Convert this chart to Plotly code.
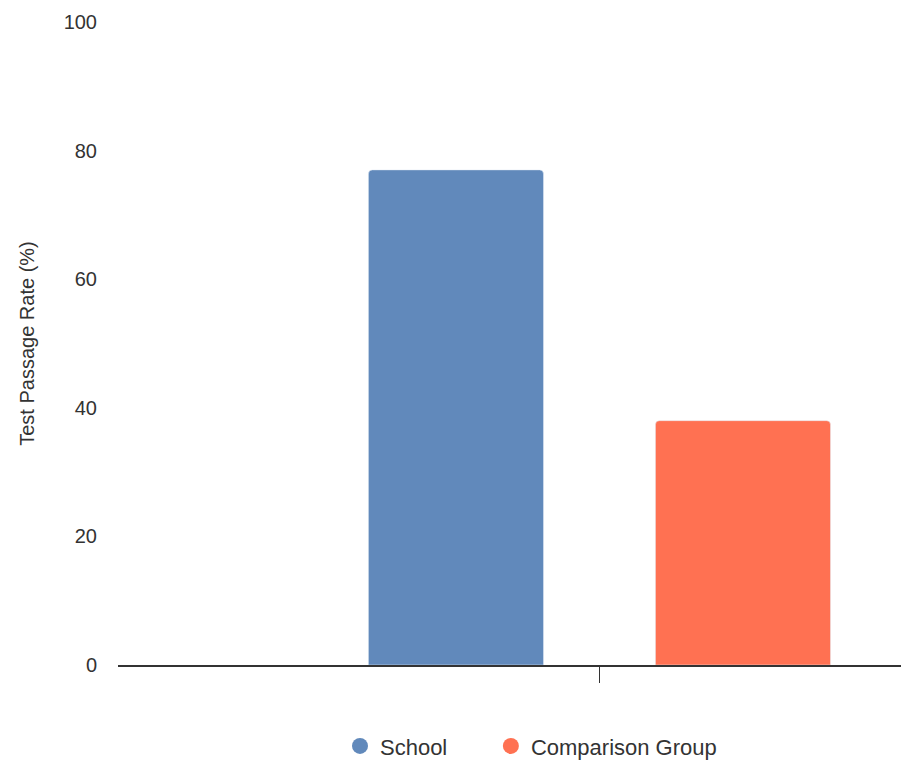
import plotly.graph_objects as go

categories = [""]
series_names = ["School", "Comparison Group"]
school_values = [77]
comparison_values = [38]
series_colors = ["#6189BB", "#FF7152"]
y_ticks = [0, 20, 40, 60, 80, 100]
legend_ids = ["legend", "legend2"]

fig = go.Figure()
for name, vals, col, lg in zip(series_names, [school_values, comparison_values], series_colors, legend_ids):
    fig.add_trace(go.Bar(x=categories, y=vals, name=name, marker=dict(color=col, cornerradius=4),
                         showlegend=False))
    fig.add_trace(go.Scatter(x=[None], y=[None], mode="markers", name=name, legend=lg,
                             marker=dict(symbol="circle", size=21, color=col), showlegend=True))

legend_common = dict(orientation="h", yanchor="top", y=-0.0935, xanchor="left",
                     font=dict(size=22), itemsizing="trace", itemwidth=30,
                     bgcolor="rgba(0,0,0,0)")

fig.update_layout(
    width=909, height=764,
    margin=dict(l=110, r=9, t=14, b=107, autoexpand=False),
    paper_bgcolor="white", plot_bgcolor="white",
    barmode="group", bargap=0.2, bargroupgap=0.39,
    font=dict(family="Liberation Sans, Arial, sans-serif", size=20, color="#333333"),
    xaxis=dict(type="category", range=[-0.671, 0.430], showgrid=False, zeroline=False,
               showline=True, linecolor="#333333", linewidth=1.5, automargin=False,
               ticks="outside", ticklen=16, tickcolor="#333333", showticklabels=False),
    yaxis=dict(range=[0, 100], tickvals=y_ticks, showgrid=False, zeroline=False,
               showline=False, ticks="", ticklabelstandoff=20, automargin=False,
               tickfont=dict(size=20, color="#333333"),
               title=dict(text="Test Passage Rate (%)", standoff=23, font=dict(size=20))),
    legend=dict(legend_common, x=0.281),
    legend2=dict(legend_common, x=0.472),
)
fig.write_html("out.html")
